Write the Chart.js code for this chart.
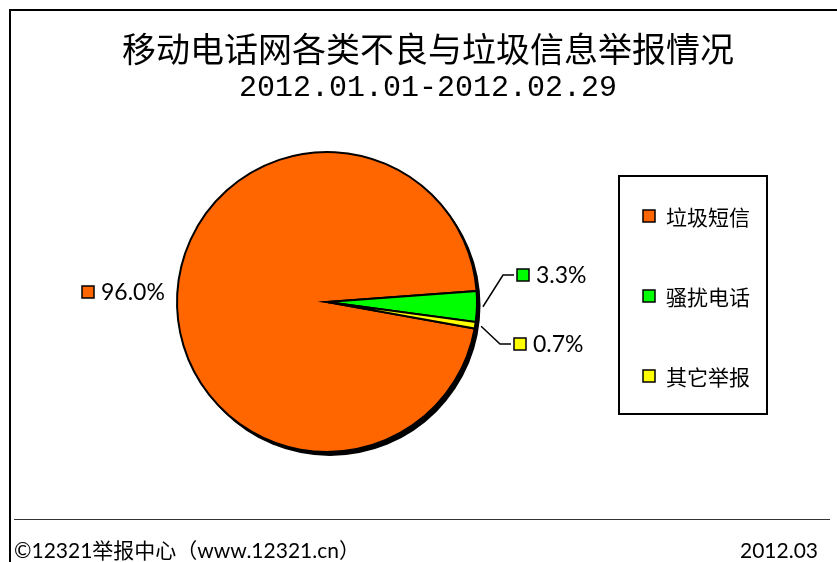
<!DOCTYPE html>
<html><head><meta charset="utf-8">
<script src="https://cdn.jsdelivr.net/npm/chart.js@4/dist/chart.umd.min.js"></script>
<style>html,body{margin:0;padding:0;background:#fff;}#wrap{width:837px;height:562px;position:relative;}</style>
</head><body><div id="wrap"><canvas id="c" width="837" height="562"></canvas></div>
<script>
const categories = ['垃圾短信', '骚扰电话', '其它举报'];
const values = [96.0, 3.3, 0.7];
const valueLabels = ['96.0%', '3.3%', '0.7%'];
const colors = ['#FF6600', '#00FF00', '#FFFF00'];
const titleLine1 = '移动电话网各类不良与垃圾信息举报情况';
const titleLine2 = '2012.01.01-2012.02.29';
const footerLeft = '©12321举报中心（www.12321.cn）';
const footerRight = '2012.03';

const LATIN = '"Lato", "Noto Sans", sans-serif';
const CJK = '"Noto Sans CJK SC", sans-serif';

const decor = {
  id: 'decor',
  beforeDatasetsDraw(chart) {
    const ctx = chart.ctx;
    const meta = chart.getDatasetMeta(0);
    const a = meta.data[0];
    ctx.save();
    ctx.fillStyle = '#000';
    ctx.beginPath();
    ctx.arc(a.x + 3, a.y + 3.5, a.outerRadius + 0.5, 0, Math.PI * 2);
    ctx.fill();
    ctx.restore();
  },
  beforeDraw(chart) {
    const ctx = chart.ctx;
    ctx.save();
    ctx.fillStyle = '#fff';
    ctx.fillRect(0, 0, 837, 562);
    // frame
    ctx.strokeStyle = '#000';
    ctx.lineWidth = 2;
    ctx.beginPath();
    ctx.moveTo(10, 562); ctx.lineTo(10, 10); ctx.lineTo(837, 10);
    ctx.stroke();
    // title
    ctx.fillStyle = '#000';
    ctx.textAlign = 'center';
    ctx.textBaseline = 'middle';
    ctx.font = '34px ' + CJK;
    ctx.fillText(titleLine1, 428, 49);
    ctx.font = '30px "Liberation Mono", monospace';
    ctx.fillText(titleLine2, 428, 88);
    // footer
    ctx.lineWidth = 1;
    ctx.strokeStyle = '#333';
    ctx.beginPath(); ctx.moveTo(14, 519.5); ctx.lineTo(830, 519.5); ctx.stroke();
    ctx.textBaseline = 'middle';
    ctx.textAlign = 'left';
    ctx.font = '21px ' + LATIN + ', ' + CJK;
    ctx.fillText(footerLeft, 14, 551);
    ctx.textAlign = 'right';
    ctx.fillText(footerRight, 818, 551);
    // legend
    ctx.lineWidth = 2;
    ctx.strokeStyle = '#000';
    ctx.strokeRect(619, 176, 148, 238);
    const ly = [216, 296, 376];
    ctx.textAlign = 'left';
    ctx.font = '21px ' + CJK;
    categories.forEach((c, i) => {
      ctx.fillStyle = colors[i];
      ctx.fillRect(643, ly[i] - 6, 12, 12);
      ctx.lineWidth = 1.5;
      ctx.strokeRect(643, ly[i] - 6, 12, 12);
      ctx.fillStyle = '#000';
      ctx.fillText(c, 666, ly[i] + 1);
    });
    ctx.restore();
  },
  afterDatasetsDraw(chart) {
    const ctx = chart.ctx;
    const meta = chart.getDatasetMeta(0);
    const pos = [{x: 82, y: 292}, {x: 517, y: 275}, {x: 514, y: 344}];
    ctx.save();
    ctx.strokeStyle = '#000';
    ctx.fillStyle = '#000';
    meta.data.forEach((arc, i) => {
      const p = pos[i];
      if (i > 0) {
        const mid = (arc.startAngle + arc.endAngle) / 2;
        const r = arc.outerRadius + 6;
        const sx = arc.x + Math.cos(mid) * r, sy = arc.y + Math.sin(mid) * r;
        ctx.lineWidth = 1.5;
        ctx.beginPath();
        ctx.moveTo(sx, sy);
        ctx.lineTo(p.x - 14, p.y);
        ctx.lineTo(p.x - 3, p.y);
        ctx.stroke();
      }
      ctx.fillStyle = colors[i];
      ctx.fillRect(p.x, p.y - 6, 12, 12);
      ctx.lineWidth = 1.5;
      ctx.strokeRect(p.x, p.y - 6, 12, 12);
      ctx.fillStyle = '#000';
      ctx.font = '23px ' + LATIN;
      ctx.textAlign = 'left';
      ctx.textBaseline = 'middle';
      ctx.fillText(valueLabels[i], p.x + 19, p.y + 1);
    });
    ctx.restore();
  }
};

new Chart(document.getElementById('c'), {
  type: 'pie',
  data: {
    labels: categories,
    datasets: [{
      data: values,
      backgroundColor: colors,
      borderColor: '#000',
      borderWidth: 2,
      borderJoinStyle: 'miter'
    }]
  },
  options: {
    responsive: false,
    animation: false,
    rotation: 100.2,
    radius: 150,
    layout: {padding: {left: 177, right: 360, top: 152, bottom: 110}},
    plugins: {legend: {display: false}, tooltip: {enabled: false}, title: {display: false}}
  },
  plugins: [decor]
});
</script>
</body></html>
